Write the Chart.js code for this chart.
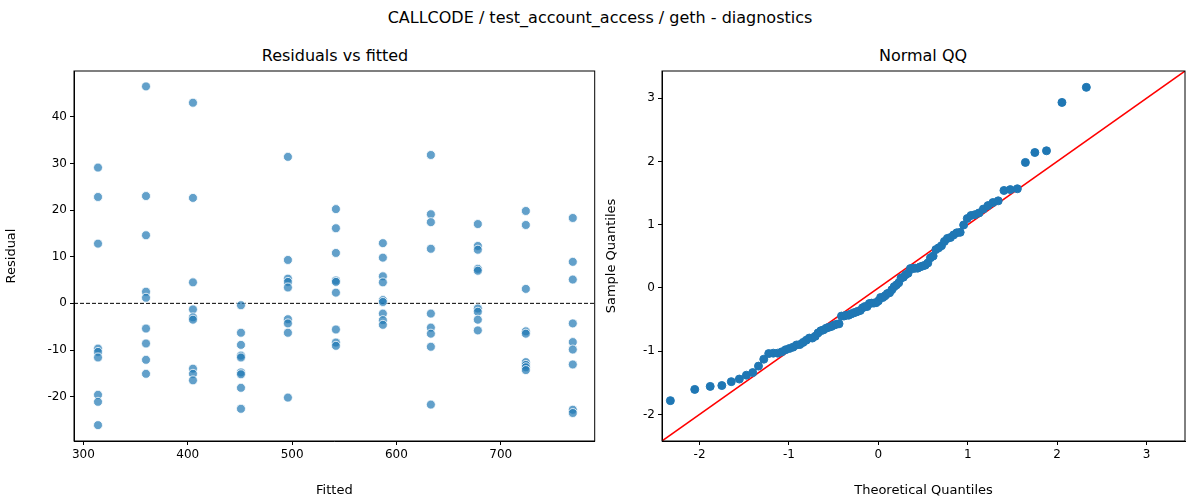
<!DOCTYPE html>
<html>
<head>
<meta charset="utf-8">
<script src="https://cdn.jsdelivr.net/npm/chart.js@4"></script>
<style>
  body { margin: 0; background: #fff; font-family: "DejaVu Sans", sans-serif; }
  #wrap { position: relative; width: 1200px; height: 500px; }
  .box { position: absolute; top: 0; width: 600px; height: 500px; }
  .ttl { position: absolute; font-size: 16px; color: #000; white-space: nowrap; transform: translateX(-50%); }
</style>
</head>
<body>
<div id="wrap">
  <div class="ttl" style="left:600px; top:8px;">CALLCODE / test_account_access / geth - diagnostics</div>
  <div class="ttl" style="left:335px; top:46px;">Residuals vs fitted</div>
  <div class="ttl" style="left:923px; top:46px;">Normal QQ</div>
  <div class="box" style="left:0"><canvas id="resid"></canvas></div>
  <div class="box" style="left:600px"><canvas id="qq"></canvas></div>
</div>
<script>
// fitted values (one per column of points)
const fittedLevels = [314, 360, 405, 451, 496, 542, 587, 633, 678, 724, 769];

// residuals read per fitted level
const residuals = [
  [29.1, 22.8, 12.8, -9.7, -10.4, -11.6, -19.6, -21.1, -26.1],
  [46.5, 23.0, 14.6, 2.5, 1.2, -5.4, -8.6, -12.1, -15.1],
  [43.0, 22.6, 4.5, -1.3, -3.0, -3.5, -14.0, -15.1, -16.5],
  [-0.4, -6.3, -8.9, -11.2, -11.6, -14.8, -15.2, -18.1, -22.6],
  [31.4, 9.3, 5.3, 4.6, 3.4, -3.4, -4.3, -6.3, -20.2],
  [20.2, 16.1, 10.8, 4.9, 4.6, 2.3, -5.6, -8.4, -9.1],
  [12.9, 9.8, 5.8, 4.5, 0.7, 0.3, -2.2, -3.6, -4.6],
  [31.8, 19.1, 17.4, 11.7, -2.2, -5.2, -6.5, -9.3, -21.7],
  [17.0, 12.3, 11.5, 7.4, 7.0, -1.1, -1.8, -3.5, -5.8],
  [19.8, 16.8, 3.1, -6.0, -6.5, -12.6, -13.2, -13.7, -14.3],
  [18.3, 8.9, 5.1, -4.3, -8.3, -9.9, -13.1, -22.8, -23.5]
];

const residPoints = [];
fittedLevels.forEach((f, i) => residuals[i].forEach(r => residPoints.push({ x: f, y: r })));

// Normal QQ: standardized residuals against normal quantiles i/(n+1)
function normInv(p) {
  const a = [-39.69683028665376, 220.9460984245205, -275.9285104469687, 138.3577518672690, -30.66479806614716, 2.506628277459239];
  const b = [-54.47609879822406, 161.5858368580409, -155.6989798598866, 66.80131188771972, -13.28068155288572];
  const c = [-0.007784894002430293, -0.3223964580411365, -2.400758277161838, -2.549732539343734, 4.374664141464968, 2.938163982698783];
  const d = [0.007784695709041462, 0.3224671290700398, 2.445134137142996, 3.754408661907416];
  const pl = 0.02425;
  let q, r;
  if (p < pl) {
    q = Math.sqrt(-2 * Math.log(p));
    return (((((c[0]*q+c[1])*q+c[2])*q+c[3])*q+c[4])*q+c[5]) / ((((d[0]*q+d[1])*q+d[2])*q+d[3])*q+1);
  }
  if (p > 1 - pl) {
    q = Math.sqrt(-2 * Math.log(1 - p));
    return -(((((c[0]*q+c[1])*q+c[2])*q+c[3])*q+c[4])*q+c[5]) / ((((d[0]*q+d[1])*q+d[2])*q+d[3])*q+1);
  }
  q = p - 0.5; r = q * q;
  return (((((a[0]*r+a[1])*r+a[2])*r+a[3])*r+a[4])*r+a[5])*q / (((((b[0]*r+b[1])*r+b[2])*r+b[3])*r+b[4])*r+1);
}
const allRes = residPoints.map(p => p.y).sort((a, b) => a - b);
const n = allRes.length;
const mean = allRes.reduce((s, v) => s + v, 0) / n;
const sd = Math.sqrt(allRes.reduce((s, v) => s + (v - mean) ** 2, 0) / (n - 1));
const qqPoints = allRes.map((v, i) => ({ x: normInv((i + 1) / (n + 1)), y: (v - mean) / sd }));

const xTicksLeft = [300, 400, 500, 600, 700];
const yTicksLeft = [-20, -10, 0, 10, 20, 30, 40];
const qqTicks = [-2, -1, 0, 1, 2, 3];

const font = { family: 'DejaVu Sans', size: 12 };
Chart.defaults.color = '#000';
Chart.defaults.font = font;

function axis(min, max, ticks, title, fitSize, isY) {
  return {
    type: 'linear', min, max,
    title: { display: true, text: title, font: { family: 'DejaVu Sans', size: 13 }, padding: isY ? 4 : 2 },
    grid: { drawOnChartArea: false, drawTicks: true, tickLength: 4, color: '#000' },
    border: { display: true, color: '#000', width: 1 },
    ticks: { padding: 3, font },
    afterBuildTicks: s => { s.ticks = ticks.map(v => ({ value: v })); },
    afterFit: s => { if (isY) s.width = fitSize; else s.height = fitSize; }
  };
}

function frame(chart) {
  const { ctx, chartArea: a } = chart;
  ctx.save();
  ctx.strokeStyle = '#000';
  ctx.lineWidth = 1;
  ctx.strokeRect(a.left, a.top, a.right - a.left, a.bottom - a.top);
  ctx.restore();
}

new Chart(document.getElementById('resid'), {
  type: 'scatter',
  data: {
    datasets: [
      { data: residPoints, backgroundColor: 'rgba(31,119,180,0.7)', borderColor: '#fff', borderWidth: 0.8, pointRadius: 4.5 },
      { type: 'line', data: [{ x: 291, y: 0 }, { x: 790, y: 0 }], borderColor: '#000', borderWidth: 1, borderDash: [4, 2], pointRadius: 0 }
    ]
  },
  options: {
    responsive: true, maintainAspectRatio: false, animation: false,
    layout: { padding: { top: 71, right: 3, left: 0, bottom: 0 } },
    plugins: { legend: { display: false }, tooltip: { enabled: false } },
    scales: {
      x: axis(291, 790, xTicksLeft, 'Fitted', 59, false),
      y: axis(-29.5, 49.8, yTicksLeft, 'Residual', 74, true)
    }
  },
  plugins: [{ id: 'frame', afterDraw: frame }]
});

new Chart(document.getElementById('qq'), {
  type: 'scatter',
  data: {
    datasets: [
      { data: qqPoints, backgroundColor: '#1f77b4', borderColor: '#1f77b4', pointRadius: 4 },
      { type: 'line', data: [{ x: -2.42, y: -2.42 }, { x: 3.43, y: 3.43 }], borderColor: '#ff0000', borderWidth: 1.5, pointRadius: 0 }
    ]
  },
  options: {
    responsive: true, maintainAspectRatio: false, animation: false,
    layout: { padding: { top: 71, right: 15, left: 0, bottom: 0 } },
    plugins: { legend: { display: false }, tooltip: { enabled: false } },
    scales: {
      x: axis(-2.42, 3.43, qqTicks, 'Theoretical Quantiles', 59, false),
      y: axis(-2.42, 3.43, qqTicks, 'Sample Quantiles', 62, true)
    }
  },
  plugins: [{ id: 'frame', afterDraw: frame }]
});
</script>
</body>
</html>
